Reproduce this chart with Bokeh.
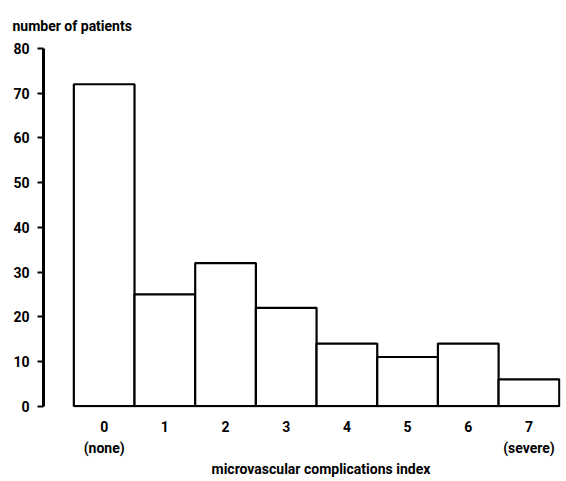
from bokeh.plotting import figure
from bokeh.models import LinearAxis, FixedTicker, Title, Range1d
from bokeh.embed import file_html
from bokeh.resources import INLINE

# ---- data ----
categories = [0, 1, 2, 3, 4, 5, 6, 7]
patients = [72, 25, 32, 22, 14, 11, 14, 6]
y_ticks = [0, 10, 20, 30, 40, 50, 60, 70, 80]
x_tick_labels = ["0", "1", "2", "3", "4", "5", "6", "7"]
x_sub_ticks = [0, 7]
x_sub_labels = ["(none)", "(severe)"]
y_title = "number of patients"
x_title = "microvascular complications index"

FONT = "Roboto"
FS = "14px"

p = figure(width=566, height=481, output_backend="svg", toolbar_location=None,
           x_range=Range1d(-1.0, 7.52), y_range=Range1d(-0.3, 80),
           min_border_left=43, min_border_right=6, min_border_top=48,
           min_border_bottom=74, x_axis_location=None, y_axis_location=None)
p.outline_line_color = None
p.xgrid.visible = False
p.ygrid.visible = False
p.background_fill_color = "white"
p.border_fill_color = "white"

p.vbar(x=categories, top=patients, bottom=0, width=1.0,
       fill_color="white", line_color="black", line_width=2.2)

# y axis
yax = LinearAxis(ticker=FixedTicker(ticks=y_ticks), bounds=(0, 80))
yax.axis_line_width = 3
yax.axis_line_color = "black"
yax.major_tick_out = 6
yax.major_tick_in = 0
yax.major_tick_line_width = 2
yax.minor_tick_line_color = None
yax.major_label_standoff = 8
yax.major_label_text_font = FONT
yax.major_label_text_font_style = "bold"
yax.major_label_text_font_size = FS
yax.major_label_text_color = "black"
p.add_layout(yax, "left")

# x axis (numbers)
xax = LinearAxis(ticker=FixedTicker(ticks=categories))
xax.major_label_overrides = {c: t for c, t in zip(categories, x_tick_labels)}
xax.axis_line_color = None
xax.major_tick_line_color = None
xax.minor_tick_line_color = None
xax.major_tick_out = 0
xax.major_tick_in = 0
xax.major_label_standoff = 13
xax.major_label_text_font = FONT
xax.major_label_text_font_style = "bold"
xax.major_label_text_font_size = FS
xax.major_label_text_color = "black"
p.add_layout(xax, "below")

# x axis (sub-labels)
xax2 = LinearAxis(ticker=FixedTicker(ticks=x_sub_ticks))
xax2.major_label_overrides = {c: t for c, t in zip(x_sub_ticks, x_sub_labels)}
xax2.axis_line_color = None
xax2.major_tick_line_color = None
xax2.minor_tick_line_color = None
xax2.major_tick_out = 0
xax2.major_tick_in = 0
xax2.major_label_standoff = 5
xax2.major_label_text_font = FONT
xax2.major_label_text_font_style = "bold"
xax2.major_label_text_font_size = FS
xax2.major_label_text_color = "black"
p.add_layout(xax2, "below")

# bottom title
bt = Title(text=x_title, align="left", offset=168, text_font=FONT,
           text_font_style="bold", text_font_size=FS, text_color="black",
           standoff=0)
p.add_layout(bt, "below")

# top title
tt = Title(text=y_title, align="left", offset=-31, text_font=FONT,
           text_font_style="bold", text_font_size=FS, text_color="black",
           standoff=29)
p.add_layout(tt, "above")

open("out.html", "w").write(file_html(p, INLINE))
